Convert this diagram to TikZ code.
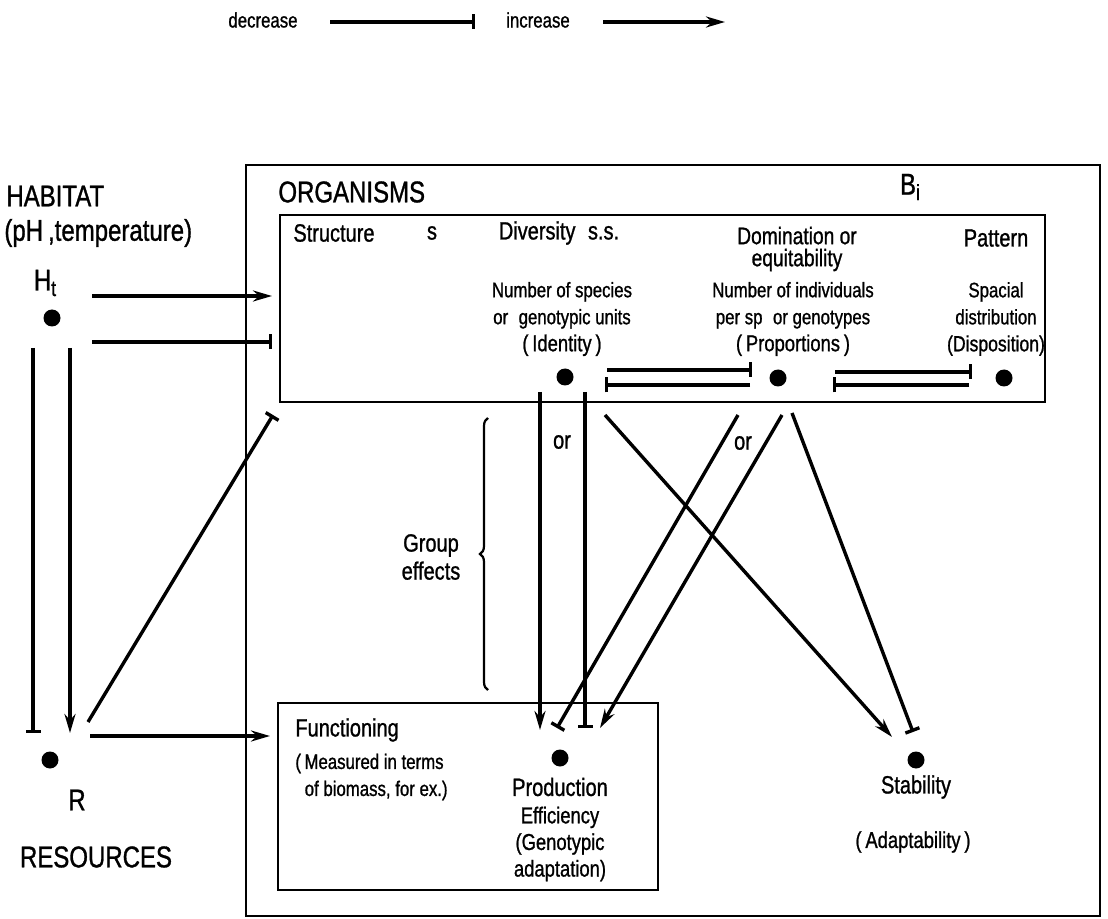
\documentclass[tikz,border=0pt]{standalone}
\usepackage{fontspec}
\setmainfont{Liberation Sans}[FakeStretch=0.8, FakeBold=1]
\usetikzlibrary{arrows.meta,decorations.pathreplacing}
\newcommand\biglbl{\fontsize{15}{18}\selectfont}
\newcommand\midlbl{\fontsize{12.5}{14}\selectfont}
\newcommand\smalllbl{\fontsize{10.5}{13.5}\selectfont}
\newcommand\sublbl[1]{\raisebox{-0.35ex}{\fontsize{11}{11}\selectfont #1}}
\tikzset{
  conn/.style={line width=1.7pt},
  inc/.style={conn, -{Stealth[length=9.5pt,width=5.5pt]}},
  dec/.style={conn, -{Bar[width=7.5pt]}},
  dot/.style={circle, fill, inner sep=0pt, minimum size=8.5pt},
  frame/.style={draw, line width=1.3pt},
  txt/.style={inner sep=0pt, align=center},
}

\begin{document}
\begin{tikzpicture}[x=0.5pt, y=-0.5pt, font=\midlbl]
  \useasboundingbox (0,0) rectangle (1108,919);

  \node[txt, font=\fontsize{10.5}{12}\selectfont] (decr) at (263,20) {decrease};
  \node[txt, font=\fontsize{10.5}{12}\selectfont] (incr) at (538,20) {increase};
  \coordinate (decrA) at (330,22);
  \coordinate (decrB) at (475,22);
  \coordinate (incrA) at (603,22);
  \coordinate (incrB) at (725,22);
  \draw[dec] (decrA) -- (decrB);
  \draw[inc] (incrA) -- (incrB);

  \draw[frame] (246,165) rectangle (1100,916);
  \draw[frame] (280,215) rectangle (1045,402);
  \draw[frame] (278,703) rectangle (658,890);

  \node[txt, font=\biglbl, anchor=west] (habitat) at (6,196) {HABITAT};
  \node[txt, font=\biglbl, anchor=west] (habparam) at (4,233) {(pH\,,temperature)};
  \node[txt, font=\biglbl] (Hlbl) at (45,283) {H\sublbl{t}};
  \node[txt, font=\biglbl] (Rlbl) at (77,800) {R};
  \node[txt, font=\biglbl] (resources) at (96,857) {RESOURCES};
  \node[txt, font=\biglbl, anchor=west] (organisms) at (278,192) {ORGANISMS};
  \node[txt, font=\biglbl] (Bi) at (910,187) {B\sublbl{i}};

  \node[txt, anchor=west] (structure) at (293,233) {Structure};
  \node[txt] (s) at (432,233) {s};
  \node[txt] (diversity) at (559,233) {Diversity\enspace s.s.};
  \node[txt, font=\smalllbl] (divnote) at (562,319)
    {Number of species\\or\enspace genotypic units\\{\fontsize{11.5}{13.5}\selectfont(\,Identity\,)}};
  \node[txt, font=\fontsize{12}{11}\selectfont] (domination) at (797,249)
    {Domination or\\equitability};
  \node[txt, font=\smalllbl] (domnote) at (793,319)
    {Number of individuals\\per sp\enspace or genotypes\\{\fontsize{11.5}{13.5}\selectfont(\,Proportions\,)}};
  \node[txt] (pattern) at (996,238) {Pattern};
  \node[txt, font=\smalllbl] (patnote) at (996,319)
    {Spacial\\distribution\\{\fontsize{11}{13.5}\selectfont(Disposition)}};

  \node[txt, anchor=west] (functioning) at (295,730) {Functioning};
  \node[txt, font=\smalllbl, anchor=west, align=left] (funcnote) at (295,777)
    {(\,Measured in terms\\\ \ of biomass, for ex.)};
  \node[txt] (production) at (560,787) {Production};
  \node[txt, font=\fontsize{11.5}{13.3}\selectfont] (prodnote) at (560,844)
    {Efficiency\\(Genotypic\\adaptation)};
  \node[txt] (stability) at (916,787) {Stability};
  \node[txt, font=\fontsize{11.5}{13.5}\selectfont] (adapt) at (913,842) {(\,Adaptability\,)};

  \node[txt] (or1) at (562,442) {or};
  \node[txt] (or2) at (743,443) {or};
  \node[txt] (group) at (431,557) {Group\\effects};
  \coordinate (braceTop) at (488,418);
  \coordinate (braceBot) at (488,690);
  \draw[line width=1.1pt, decorate, decoration={brace, amplitude=4pt}] (braceBot) -- (braceTop);

  \node[dot] (H) at (52,318) {};
  \node[dot] (R) at (50,760) {};
  \node[dot] (div) at (565,377) {};
  \node[dot] (dom) at (778,378) {};
  \node[dot] (pat) at (1004,378) {};
  \node[dot] (prod) at (560,758) {};
  \node[dot] (stab) at (916,760) {};

  \coordinate (structIn) at (272,296);
  \coordinate (structBar) at (272,342);
  \coordinate (structLow) at (273,415);
  \coordinate (funcIn) at (270,736);

  \draw[inc] ([shift={(40,-22)}]H.center) -- (structIn);
  \draw[dec] ([shift={(40,24)}]H.center) -- (structBar);
  \draw[dec] ([shift={(-19,30)}]H.center) -- ([shift={(-17,-27)}]R.center);
  \draw[inc] ([shift={(18,30)}]H.center) -- ([shift={(20,-27)}]R.center);
  \draw[dec] ([shift={(38,-38)}]R.center) -- (structLow);
  \draw[inc] ([shift={(40,-24)}]R.center) -- (funcIn);

  \draw[dec] ([shift={(42,-7)}]div.center) -- ([shift={(-26,-8)}]dom.center);
  \draw[dec] ([shift={(-28,7)}]dom.center) -- ([shift={(40,8)}]div.center);
  \draw[dec] ([shift={(57,-6)}]dom.center) -- ([shift={(-32,-6)}]pat.center);
  \draw[dec] ([shift={(-35,7)}]pat.center) -- ([shift={(55,7)}]dom.center);

  \draw[inc] ([shift={(-25,15)}]div.center) -- ([shift={(-20,-28)}]prod.center);
  \draw[dec] ([shift={(20,15)}]div.center) -- ([shift={(25,-30)}]prod.center);
  \draw[inc] ([shift={(40,38)}]div.center) -- ([shift={(-24,-23)}]stab.center);
  \draw[dec] ([shift={(-40,37)}]dom.center) -- ([shift={(-3,-30)}]prod.center);
  \draw[inc] ([shift={(4,37)}]dom.center) -- ([shift={(40,-30)}]prod.center);
  \draw[dec] ([shift={(14,35)}]dom.center) -- ([shift={(-3,-28)}]stab.center);
\end{tikzpicture}
\end{document}
